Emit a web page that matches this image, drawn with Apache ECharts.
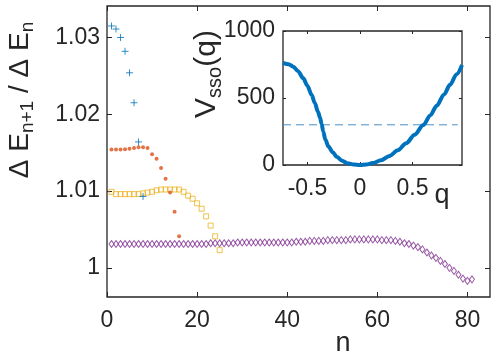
<!DOCTYPE html>
<html>
<head>
<meta charset="utf-8">
<script src="https://cdn.jsdelivr.net/npm/echarts@6/dist/echarts.min.js"></script>
<style>
html, body { margin: 0; padding: 0; background: #fff; }
#main { width: 496px; height: 360px; }
</style>
</head>
<body>
<div id="main"></div>
<script>
// values, n = 1, 2, 3 ...
var blueVals = [1.0315, 1.0311, 1.0300, 1.0282, 1.0254, 1.0215, 1.0164, 1.0093];
var orangeVals = [1.0154, 1.0154, 1.0154, 1.01545, 1.0155, 1.0156, 1.0157, 1.0157, 1.0156,
    1.0148, 1.0142, 1.0130, 1.0116, 1.0098, 1.0073, 1.0041];
var yellowVals = [1.0099, 1.0096, 1.0096, 1.0096, 1.0096, 1.0096, 1.0096, 1.0097, 1.0098,
    1.0099, 1.0101, 1.0102, 1.0102, 1.0102, 1.0102, 1.0102, 1.0099, 1.0094, 1.0090,
    1.0084, 1.0077, 1.0067, 1.0055, 1.0041, 1.0023];
var purpleVals = [
    1.0031, 1.0031, 1.0031, 1.0031, 1.0031, 1.0031, 1.0031, 1.0031, 1.0031, 1.0031,
    1.0031, 1.0031, 1.0031, 1.0031, 1.0031, 1.0031, 1.0031, 1.0031, 1.0031, 1.0031,
    1.0031, 1.0031, 1.0032, 1.0032, 1.0032, 1.0032, 1.0032, 1.0032, 1.0033, 1.0033,
    1.0033, 1.0033, 1.0033, 1.0033, 1.0033, 1.0033, 1.0033, 1.0033, 1.0033, 1.0033,
    1.0033, 1.0034, 1.0034, 1.0034, 1.0035, 1.0035, 1.0035, 1.0035, 1.0036, 1.0036,
    1.0036, 1.0036, 1.0036, 1.0037, 1.0037, 1.0037, 1.0037, 1.0037, 1.0037, 1.0037,
    1.0036, 1.0036, 1.0036, 1.0035, 1.0034, 1.0032, 1.0031, 1.0029, 1.0027, 1.0024,
    1.0020, 1.0016, 1.0013, 1.0009, 1.0005, 1.0000, 0.9996, 0.9991, 0.9986, 0.9983,
    0.9985
];

// inset: V_sso(q)
var qVals = [-0.733, -0.68, -0.635, -0.59, -0.54, -0.50, -0.46, -0.43, -0.40, -0.38,
    -0.365, -0.35, -0.33, -0.30, -0.26, -0.22, -0.17, -0.12, -0.06, 0,
    0.06, 0.12, 0.2, 0.28, 0.36, 0.44, 0.52, 0.603, 0.67, 0.73,
    0.80, 0.857, 0.92, 0.971];
var vVals = [763, 752, 734, 700, 647, 590, 522, 462, 398, 352,
    305, 250, 190, 138, 95, 60, 32, 13, 3, 0,
    4, 14, 35, 68, 110, 162, 226, 298, 372, 442,
    527, 598, 678, 747];
var levelQ = [-0.733, 0.93];
var levelV = [300, 300];

var nTicks = [0, 20, 40, 60, 80];
var ratioTicks = [1, 1.01, 1.02, 1.03];
var qTicks = [-0.5, 0, 0.5];
var vTicks = [0, 500, 1000];

function pairs(xs, ys) {
    var out = [];
    for (var i = 0; i < ys.length; i++) {
        out.push([xs ? xs[i] : i + 1, ys[i]]);
    }
    return out;
}

var ink = '#262626';
var font = '"Liberation Sans", Arial, Helvetica, sans-serif';
var tickFont = 23;

function axis(grid, pos, min, max, ticks, showLabel, margin, tickLen) {
    return {
        type: 'value', gridIndex: grid, position: pos, min: min, max: max,
        axisLine: { show: false, onZero: false },
        splitLine: { show: false },
        axisTick: { show: true, inside: true, length: tickLen, customValues: ticks,
            lineStyle: { color: ink, width: 1 } },
        axisLabel: { show: showLabel, customValues: ticks, margin: margin,
            color: ink, fontSize: tickFont, fontFamily: font,
            formatter: function (v) { return String(v); } }
    };
}

function richTitle(x, y, text, big, small) {
    return {
        type: 'text', x: x, y: y, rotation: Math.PI / 2,
        style: {
            text: text, align: 'center', verticalAlign: 'middle', fill: ink,
            rich: {
                a: { fontSize: big, fontFamily: font, fill: ink, lineHeight: big + 7 },
                s: { fontSize: small, fontFamily: font, fill: ink, lineHeight: small, verticalAlign: 'bottom' }
            }
        }
    };
}

var chart = echarts.init(document.getElementById('main'));
chart.setOption({
    animation: false,
    backgroundColor: '#fff',
    grid: [
        { left: 107, top: 6, right: 6, bottom: 63, show: true, borderColor: ink, borderWidth: 1.3, backgroundColor: '#fff' },
        { left: 283, top: 31, width: 179, height: 134, show: true, borderColor: ink, borderWidth: 1.3, backgroundColor: '#fff' }
    ],
    xAxis: [
        axis(0, 'bottom', 0, 85, nTicks, true, 12, 5),
        axis(0, 'top', 0, 85, nTicks, false, 12, 5),
        axis(1, 'bottom', -0.733, 0.971, qTicks, true, 12, 3),
        axis(1, 'top', -0.733, 0.971, qTicks, false, 12, 3)
    ],
    yAxis: [
        axis(0, 'left', 0.9962, 1.0341, ratioTicks, true, 7, 5),
        axis(0, 'right', 0.9962, 1.0341, ratioTicks, false, 7, 5),
        axis(1, 'left', 0, 1000, vTicks, true, 8, 3),
        axis(1, 'right', 0, 1000, vTicks, false, 8, 3)
    ],
    series: [
        {
            type: 'scatter', xAxisIndex: 0, yAxisIndex: 0, data: pairs(null, purpleVals),
            symbol: 'diamond', symbolSize: [5, 7],
            itemStyle: { color: 'rgba(0,0,0,0)', borderColor: '#7E2F8E', borderWidth: 1 }
        },
        {
            type: 'scatter', xAxisIndex: 0, yAxisIndex: 0, data: pairs(null, yellowVals),
            symbol: 'rect', symbolSize: 5,
            itemStyle: { color: 'rgba(0,0,0,0)', borderColor: '#EDB120', borderWidth: 1 }
        },
        {
            type: 'scatter', xAxisIndex: 0, yAxisIndex: 0, data: pairs(null, orangeVals),
            symbol: 'circle', symbolSize: 4,
            itemStyle: { color: '#D95319' }
        },
        {
            type: 'scatter', xAxisIndex: 0, yAxisIndex: 0, data: pairs(null, blueVals),
            symbol: 'path://M5,0L5,10M0,5L10,5', symbolSize: 7,
            itemStyle: { color: 'none', borderColor: '#0072BD', borderWidth: 1 }
        },
        {
            type: 'line', xAxisIndex: 2, yAxisIndex: 2, data: pairs(levelQ, levelV),
            showSymbol: false, silent: true,
            lineStyle: { color: '#4a8fc4', width: 1, type: [8, 5] }
        },
        {
            type: 'line', xAxisIndex: 2, yAxisIndex: 2, data: pairs(qVals, vVals),
            showSymbol: false, smooth: 0.3, smoothMonotone: 'x',
            lineStyle: { color: '#0072BD', width: 4 }
        }
    ],
    graphic: [
        richTitle(20, 100, '{a|Δ E}{s|n+1}{a| / Δ E}{s|n}', 28, 19),
        {
            type: 'text', x: 343, y: 344,
            style: { text: 'n', fontSize: 27, fontFamily: font, fill: ink, align: 'center', verticalAlign: 'middle' }
        },
        richTitle(207, 74, '{a|V}{s|sso}{a|(q)}', 30, 20),
        {
            type: 'text', x: 442, y: 196,
            style: { text: 'q', fontSize: 27, fontFamily: font, fill: ink, align: 'center', verticalAlign: 'middle' }
        }
    ]
});
</script>
</body>
</html>
